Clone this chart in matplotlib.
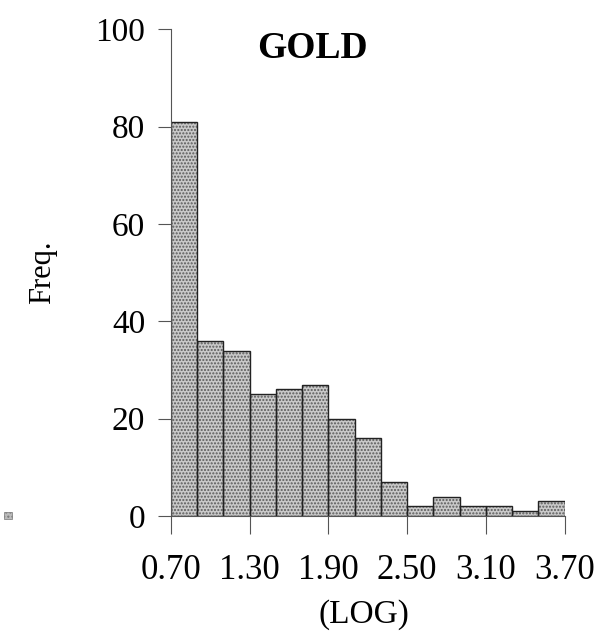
import numpy as np
import matplotlib
matplotlib.use("Agg")
import matplotlib.pyplot as plt
from matplotlib.patches import Rectangle

# histogram of gold values (log), bins of 0.2 from 0.70 to 3.70
bin_edges = [0.70, 0.90, 1.10, 1.30, 1.50, 1.70, 1.90, 2.10, 2.30,
             2.50, 2.70, 2.90, 3.10, 3.30, 3.50, 3.70]
freq = [81, 36, 34, 25, 26, 27, 20, 16, 7, 2, 4, 2, 2, 1, 3]
xticks = [0.70, 1.30, 1.90, 2.50, 3.10, 3.70]
yticks = [0, 20, 40, 60, 80, 100]

plt.rcParams['font.family'] = ['Liberation Serif', 'DejaVu Serif']

fig = plt.figure(figsize=(6.04, 6.34), dpi=100)
ax = fig.add_axes([0.283, 0.186, 0.652, 0.768])

left = np.array(bin_edges[:-1])
width = np.diff(bin_edges)

# stippled fill then dark outline
ax.bar(left, freq, width=width, align='edge', color='#c9c9c9',
       hatch='.....', edgecolor='#5a5a5a', linewidth=0)
ax.bar(left, freq, width=width, align='edge', fill=False,
       edgecolor='#222222', linewidth=1.0)

ax.set_xlim(0.70, 3.70)
ax.set_ylim(0, 100)
ax.set_xticks(xticks)
ax.set_xticklabels(["%.2f" % v for v in xticks])
ax.set_yticks(yticks)

for s in ['top', 'right']:
    ax.spines[s].set_visible(False)
for s in ['left', 'bottom']:
    ax.spines[s].set_color('#555555')
    ax.spines[s].set_linewidth(0.8)

ax.tick_params(axis='x', direction='out', length=13, width=0.8,
               color='#555555', labelsize=25, pad=14)
ax.tick_params(axis='y', direction='out', length=9.5, width=0.8,
               color='#555555', labelsize=24, pad=9)

ax.set_xlabel("(LOG)", fontsize=24)
ax.xaxis.set_label_coords(0.49, -0.17)
ax.set_ylabel("Freq.", fontsize=22)
ax.yaxis.set_label_coords(-0.288, 0.5)

ax.text(0.36, 0.96, "GOLD", transform=ax.transAxes, ha='center', va='center',
        fontsize=27, fontweight='bold')

# little swatch at the far left
fig.patches.append(Rectangle((4 / 604, 1 - 519 / 634), 8 / 604, 7 / 634,
                             transform=fig.transFigure, facecolor='#bbbbbb',
                             edgecolor='#777777', hatch='....', linewidth=0.5))

fig.savefig("out.png", dpi=100)
